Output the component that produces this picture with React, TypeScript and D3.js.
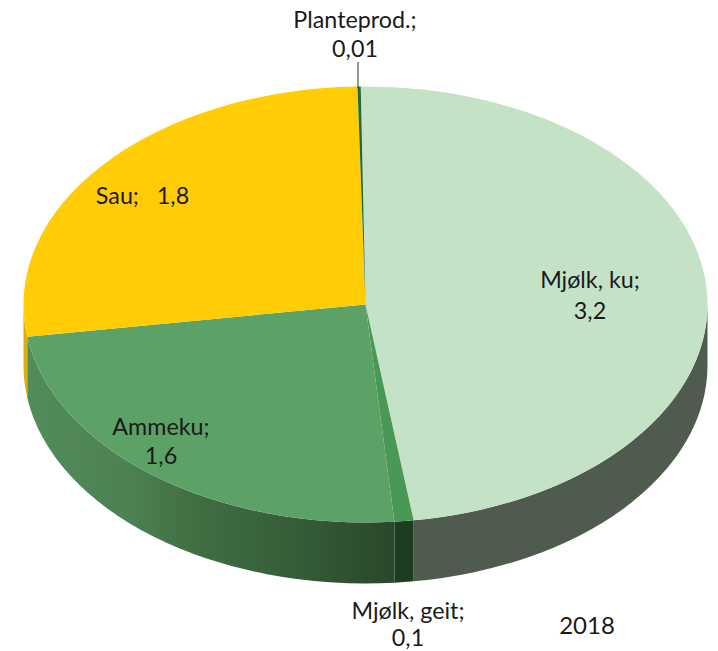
import React from "react";
import * as d3 from "d3";

const categories = ["Mjølk, ku", "Mjølk, geit", "Ammeku", "Sau", "Planteprod."];
const values = [3.2, 0.06, 1.6, 1.8, 0.01];
const topColors = ["#c4e3c6", "#4a9855", "#5ca166", "#ffcc05", "#1f6b3a"];
const wallColors = ["#4f5b4f", "#1c3d20", "url(#ammekuWall)", "#dcae08", "#1f6b3a"];
const labelLines = [
  { lines: ["Mjølk, ku;", "3,2"], x: 590, y: [288, 319] },
  { lines: ["Mjølk, geit;", "0,1"], x: 408, y: [619, 646] },
  { lines: ["Ammeku;", "1,6"], x: 161, y: [435, 464] },
  { lines: ["Sau;\u00a0\u00a0 1,8"], x: 142.5, y: [204] },
  { lines: ["Planteprod.;", "0,01"], x: 355, y: [28, 57] },
];
const yearLabel = "2018";

const W = 718, H = 651, cx = 365.5, cy = 304.5, rx = 342, ry = 218, depth = 61;
const startDeg = -0.8;

const px = (t: number) => cx + rx * Math.sin(t);
const py = (t: number, d = 0) => cy - ry * Math.cos(t) + d;

function topPath(a0: number, a1: number) {
  const large = a1 - a0 > Math.PI ? 1 : 0;
  return `M${cx},${cy}L${px(a0)},${py(a0)}A${rx},${ry} 0 ${large} 1 ${px(a1)},${py(a1)}Z`;
}
function wallPath(a0: number, a1: number) {
  const s = Math.max(a0, Math.PI / 2), e = Math.min(a1, 1.5 * Math.PI);
  if (e <= s) return null;
  return `M${px(s)},${py(s)}A${rx},${ry} 0 0 1 ${px(e)},${py(e)}L${px(e)},${py(e, depth)}A${rx},${ry} 0 0 0 ${px(s)},${py(s, depth)}Z`;
}

export default function App() {
  const start = (startDeg * Math.PI) / 180;
  const arcs = d3.pie<number>().sort(null).startAngle(start).endAngle(start + 2 * Math.PI)(values);
  return (
    <svg width={W} height={H} style={{ position: "absolute", left: 0, top: 0, background: "#fff" }}>
      <defs>
        <linearGradient id="ammekuWall" gradientUnits="userSpaceOnUse" x1={30} x2={393} y1={0} y2={0}>
          <stop offset="0" stopColor="#528c5b" />
          <stop offset="0.28" stopColor="#4c8152" />
          <stop offset="0.42" stopColor="#427145" />
          <stop offset="0.7" stopColor="#365f39" />
          <stop offset="1" stopColor="#2a482a" />
        </linearGradient>
      </defs>
      {arcs.map((a, i) => {
        const d = wallPath(a.startAngle, a.endAngle);
        return d ? <path key={categories[i]} d={d} fill={wallColors[i]} /> : null;
      })}
      {arcs.map((a, i) => (
        <path key={categories[i]} d={topPath(a.startAngle, a.endAngle)} fill={topColors[i]} />
      ))}
      <line x1={358} x2={358} y1={62} y2={88} stroke="#333" strokeWidth={1} />
      <g fontFamily="Lato, sans-serif" fontSize={23.3} fill="#1a1a1a" textAnchor="middle">
        {labelLines.map((l) =>
          l.lines.map((t, j) => (
            <text key={t} x={l.x} y={l.y[j]}>{t}</text>
          ))
        )}
        <text x={587} y={634} fontSize={24}>{yearLabel}</text>
      </g>
    </svg>
  );
}
